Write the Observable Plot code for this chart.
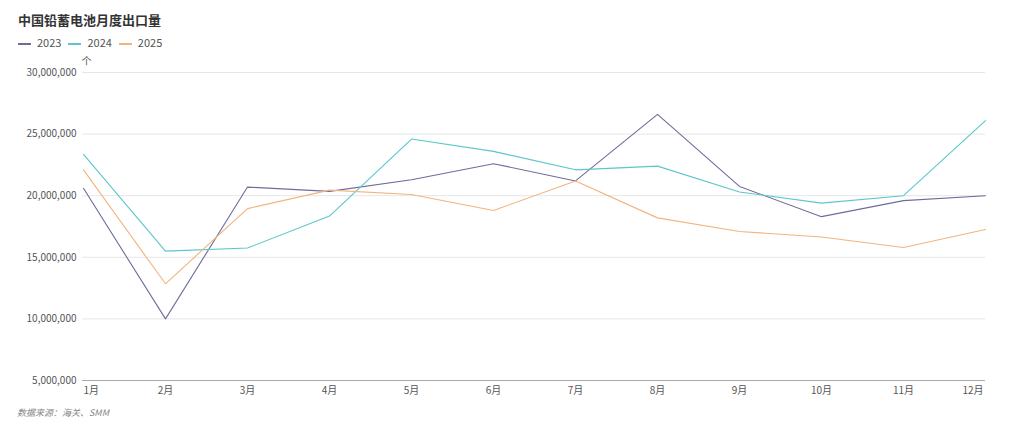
<!DOCTYPE html>
<html><head><meta charset="utf-8">
<script src="https://cdn.jsdelivr.net/npm/d3@7"></script>
<script src="https://cdn.jsdelivr.net/npm/@observablehq/plot@0.6"></script>
<style>
body{margin:0;background:#fff;font-family:"Noto Sans CJK SC","Noto Sans",sans-serif;width:1024px;height:431px;overflow:hidden;position:relative}
#title{position:absolute;left:18px;top:10px;font-size:13px;font-weight:bold;color:#333}
#legend{position:absolute;left:18px;top:34px;font-size:11px;color:#555;display:flex;gap:7px;align-items:center}
#legend span.sw{display:inline-block;width:13px;height:2px;margin-right:6px;vertical-align:middle}
#chart{position:absolute;left:0;top:50px}
#cap{position:absolute;left:17px;top:406px;font-size:9px;font-style:italic;color:#888}
</style></head>
<body>
<div id="title">中国铅蓄电池月度出口量</div>
<div id="legend"></div>
<div id="chart"></div>
<div id="cap">数据来源：海关、SMM</div>
<script>
const months = ["1月","2月","3月","4月","5月","6月","7月","8月","9月","10月","11月","12月"];
const years = ["2023","2024","2025"];
const colors = ["#6e6c9c","#5cc6cc","#f2b47e"];
const v2023 = [20600000,10000000,20700000,20350000,21300000,22600000,21200000,26600000,20750000,18300000,19600000,20000000];
const v2024 = [23350000,15500000,15750000,18350000,24600000,23600000,22100000,22400000,20300000,19400000,20000000,26100000];
const v2025 = [22100000,12850000,18950000,20450000,20100000,18800000,21200000,18200000,17100000,16650000,15800000,17250000];
const yTicks = [5000000,10000000,15000000,20000000,25000000,30000000];

const series = [v2023, v2024, v2025];
const data = [];
series.forEach((vals, i) => vals.forEach((v, j) => data.push({year: years[i], month: months[j], value: v})));

const lg = document.getElementById("legend");
years.forEach((y, i) => {
  const d = document.createElement("span");
  d.innerHTML = `<span class="sw" style="background:${colors[i]}"></span>${y}`;
  lg.appendChild(d);
});

const fmt = d3.format(",");
const chart = Plot.plot({
  width: 1024, height: 350,
  marginTop: 22, marginBottom: 20, marginLeft: 82, marginRight: 39,
  style: {fontFamily: '"Noto Sans CJK SC","Noto Sans",sans-serif', fontSize: "10px", color: "#555"},
  x: {type: "point", domain: months, padding: 0},
  y: {domain: [5000000, 30000000]},
  color: {domain: years, range: colors},
  marks: [
    Plot.gridY(yTicks, {stroke: "#e6e6e6", strokeOpacity: 1}),
    Plot.ruleY([5000000], {stroke: "#aaa", strokeWidth: 1.2}),
    Plot.axisY(yTicks, {tickSize: 0, tickPadding: 6, tickFormat: fmt, label: null, fill: "#555"}),
    Plot.axisX(months.slice(1, 11), {tickSize: 0, tickPadding: 6, label: null, fill: "#555"}),
    Plot.axisX([months[0]], {tickSize: 0, tickPadding: 6, label: null, textAnchor: "start", dx: 0, fill: "#555"}),
    Plot.axisX([months[11]], {tickSize: 0, tickPadding: 6, label: null, textAnchor: "end", dx: -2, fill: "#555"}),
    Plot.text(["个"], {frameAnchor: "top-left", dx: -1, dy: -15, fill: "#555", fontSize: 10}),
    Plot.line(data, {x: "month", y: "value", z: "year", stroke: "year", strokeWidth: 1.1})
  ]
});
document.getElementById("chart").appendChild(chart);
</script>
</body></html>
